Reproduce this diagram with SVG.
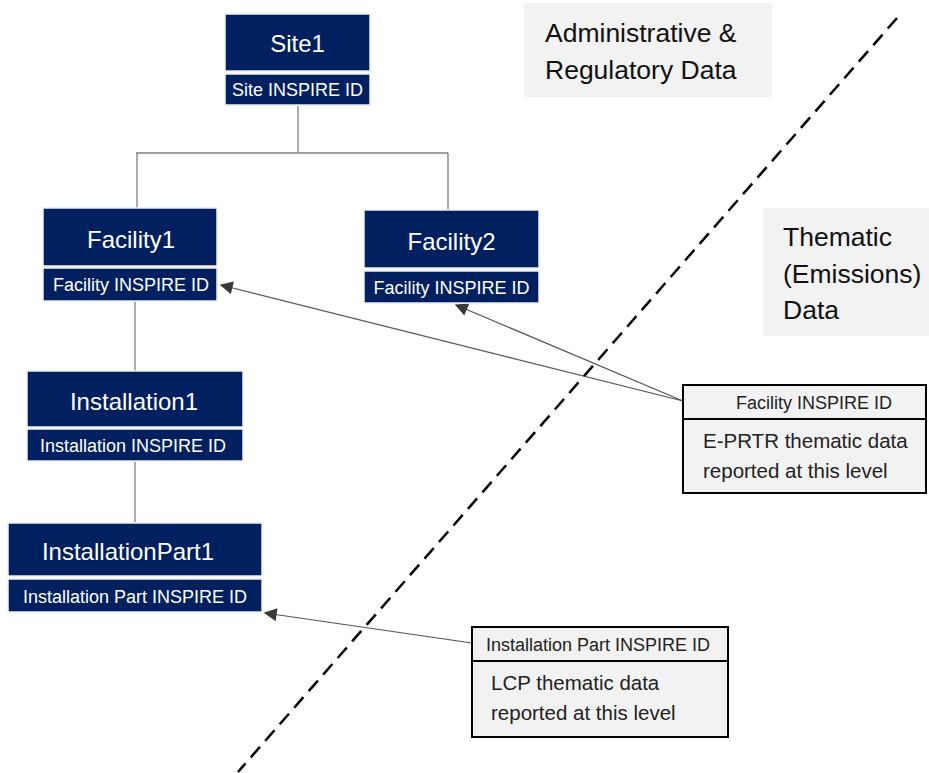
<svg xmlns="http://www.w3.org/2000/svg" width="929" height="773" viewBox="0 0 929 773">
<defs>
<style>
.node rect{fill:#002060;stroke:#eeeeee;stroke-width:1.5}
.t{font-family:"Liberation Sans",Arial,sans-serif;fill:#ffffff;text-anchor:middle}
.title{font-size:24px}
.id{font-size:18px}
.lbl{fill:#f2f2f2}
.lt{font-family:"Liberation Sans",Arial,sans-serif;fill:#111111;font-size:26.5px}
.box rect{fill:#f2f2f2;stroke:#000000;stroke-width:2}
.bt{font-family:"Liberation Sans",Arial,sans-serif;fill:#222222}
.tree{stroke:#808080;stroke-width:1.3;fill:none}
.arr{stroke:#555555;stroke-width:1.2;fill:none;marker-end:url(#ah)}
</style>
<marker id="ah" viewBox="0 0 10 10" refX="9" refY="5" markerWidth="15" markerHeight="13" markerUnits="userSpaceOnUse" orient="auto">
<path d="M0,0 L10,5 L0,10 z" fill="#3a3a3a"/>
</marker>
</defs>
<rect width="929" height="773" fill="#ffffff"/>

<g id="label-admin">
<rect class="lbl" x="524" y="3" width="248" height="94"/>
<text class="lt" x="545" y="42">Administrative &amp;</text>
<text class="lt" x="545" y="79">Regulatory Data</text>
</g>
<g id="label-thematic">
<rect class="lbl" x="763" y="208" width="166" height="128"/>
<text class="lt" x="783" y="246">Thematic</text>
<text class="lt" x="783" y="283">(Emissions)</text>
<text class="lt" x="783" y="319">Data</text>
</g>

<g id="divider">
<line x1="897" y1="18" x2="238" y2="772" stroke="#000000" stroke-width="2.5" stroke-dasharray="14,8"/>
</g>

<g id="connectors">
<line class="tree" x1="298" y1="106" x2="298" y2="153"/>
<line class="tree" x1="136" y1="153" x2="448" y2="153"/>
<line class="tree" x1="137" y1="153" x2="137" y2="208"/>
<line class="tree" x1="448" y1="153" x2="448" y2="210"/>
<line class="tree" x1="135" y1="302" x2="135" y2="371"/>
<line class="tree" x1="135" y1="462" x2="135" y2="522"/>
<line class="arr" x1="683" y1="401" x2="221" y2="285"/>
<line class="arr" x1="683" y1="401" x2="456" y2="305"/>
<line class="arr" x1="472" y1="643" x2="265" y2="613"/>
</g>

<g id="site1" class="node">
<rect x="225" y="14" width="145" height="57"/>
<rect x="225" y="74" width="145" height="31"/>
<text class="t title" x="297.5" y="52">Site1</text>
<text class="t id" x="297.5" y="96">Site INSPIRE ID</text>
</g>

<g id="facility1" class="node">
<rect x="43" y="208" width="174" height="58"/>
<rect x="43" y="268" width="174" height="33"/>
<text class="t title" x="131" y="248">Facility1</text>
<text class="t id" x="131" y="291">Facility INSPIRE ID</text>
</g>

<g id="facility2" class="node">
<rect x="364" y="210" width="175" height="58"/>
<rect x="364" y="271" width="175" height="32"/>
<text class="t title" x="451.5" y="250">Facility2</text>
<text class="t id" x="451.5" y="294">Facility INSPIRE ID</text>
</g>

<g id="installation1" class="node">
<rect x="27" y="371" width="216" height="56"/>
<rect x="27" y="429" width="216" height="32"/>
<text class="t title" x="134" y="410">Installation1</text>
<text class="t id" x="133" y="452">Installation INSPIRE ID</text>
</g>

<g id="installationpart1" class="node">
<rect x="8" y="523" width="254" height="53"/>
<rect x="8" y="579" width="254" height="33"/>
<text class="t title" x="128" y="560">InstallationPart1</text>
<text class="t id" x="135" y="603">Installation Part INSPIRE ID</text>
</g>

<g id="eprtr-box" class="box">
<rect x="683" y="385" width="243" height="108"/>
<line x1="683" y1="419" x2="926" y2="419" stroke="#000000" stroke-width="2"/>
<text class="bt" x="814" y="409" font-size="18" text-anchor="middle">Facility INSPIRE ID</text>
<text class="bt" x="703" y="448" font-size="20.5">E-PRTR thematic data</text>
<text class="bt" x="703" y="478" font-size="20.5">reported at this level</text>
</g>

<g id="lcp-box" class="box">
<rect x="472" y="627" width="256" height="110"/>
<line x1="472" y1="661" x2="728" y2="661" stroke="#000000" stroke-width="2"/>
<text class="bt" x="598" y="651" font-size="18" text-anchor="middle">Installation Part INSPIRE ID</text>
<text class="bt" x="491" y="690" font-size="20.5">LCP thematic data</text>
<text class="bt" x="491" y="720" font-size="20.5">reported at this level</text>
</g>
</svg>
